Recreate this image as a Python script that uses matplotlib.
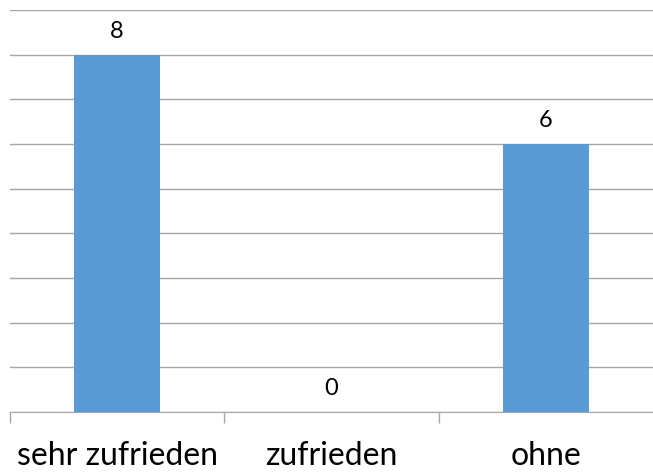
import matplotlib.pyplot as plt

categories = ['sehr zufrieden', 'zufrieden', 'ohne']
values = [8, 0, 6]

plt.rcParams['font.family'] = ['Lato', 'DejaVu Sans']

fig = plt.figure(figsize=(6.53, 4.76), dpi=100)
ax = fig.add_axes([10 / 653, 64 / 476, 643 / 653, 402 / 476])

x = range(len(categories))
bars = ax.bar(x, values, width=0.4, color='#5B9BD5', zorder=3)

# value labels sit a little above each bar
for xi, v in zip(x, values):
    ax.annotate(str(v), (xi, v), xytext=(0, 17), textcoords='offset pixels',
                ha='center', va='baseline', fontsize=17, color='black')

ax.set_xlim(-0.5, len(categories) - 0.5)
ax.set_ylim(0, 9)
ax.set_yticks(range(0, 10))
ax.yaxis.grid(True, color='#a6a6a6', linewidth=1)
ax.tick_params(axis='y', left=False, labelleft=False)

# boundary ticks as major, category labels on minor ticks
ax.set_xticks([-0.5, 0.5, 1.5])
ax.set_xticklabels([])
ax.tick_params(axis='x', which='major', direction='out', length=8, color='#a6a6a6', width=1)
ax.set_xticks(list(x), minor=True)
ax.set_xticklabels(categories, minor=True, fontsize=23)
ax.tick_params(axis='x', which='minor', length=0, pad=21)

for s in ['top', 'right', 'left']:
    ax.spines[s].set_visible(False)
ax.spines['bottom'].set_color('#a6a6a6')
ax.set_axisbelow(True)

fig.savefig('out.png', dpi=100)
